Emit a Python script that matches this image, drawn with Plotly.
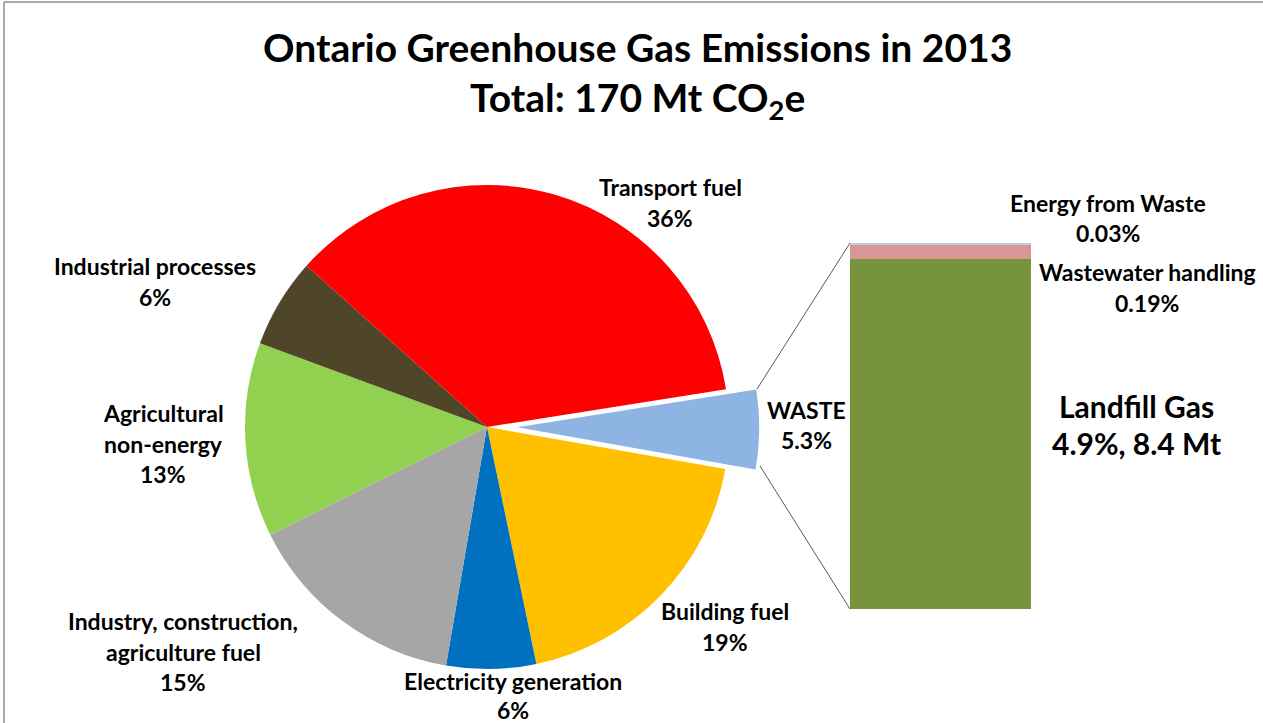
import plotly.graph_objects as go

W, H = 1263, 723

# ---- data ----
pie_labels = ["WASTE", "Building fuel", "Electricity generation",
              "Industry, construction, agriculture fuel", "Agricultural non-energy",
              "Industrial processes", "Transport fuel"]
pie_values = [5.3, 19, 6, 15, 13, 6, 36]
pie_text = ["5.3%", "19%", "6%", "15%", "13%", "6%", "36%"]
pie_colors = ["#8EB4E3", "#FFC000", "#0070C0", "#A6A6A6", "#92D050", "#4F4629", "#FF0000"]

waste_labels = ["Landfill Gas", "Wastewater handling", "Energy from Waste"]
waste_values = [4.9, 0.19, 0.03]
waste_text = ["4.9%, 8.4 Mt", "0.19%", "0.03%"]
waste_colors = ["#77933C", "#D99694", "#B9CDE5"]

FONT = "Lato"

def px(x):
    return x / W

def py(y):
    return 1 - y / H

fig = go.Figure()

# ---- pie ----
cx, cy, R, pull = 487, 427, 242, 0.125
half = R * (1 + pull)
fig.add_trace(go.Pie(
    labels=pie_labels, values=pie_values, sort=False, direction="clockwise",
    rotation=81, pull=[pull] + [0] * (len(pie_values) - 1),
    marker=dict(colors=pie_colors, line=dict(width=0)),
    textinfo="none", hoverinfo="label+text", text=pie_text,
    showlegend=False,
    domain=dict(x=[px(cx - half), px(cx + half)], y=[py(cy + half), py(cy - half)]),
))

# ---- stacked bar ----
for lab, val, col in zip(waste_labels, waste_values, waste_colors):
    fig.add_trace(go.Bar(x=[0], y=[val], name=lab, marker=dict(color=col, line=dict(width=0)),
                         width=1, showlegend=False, xaxis="x", yaxis="y"))

bx0, bx1, by_top, by_bot = 850, 1031, 243, 609
total = sum(waste_values)

# ---- label annotations (one per line) ----
def add_label(lines, x, y0, size=23, gap=30.5):
    for i, line in enumerate(lines):
        fig.add_annotation(text=line, x=px(x), y=py(y0 + i * gap), xref="paper", yref="paper",
                           showarrow=False, xanchor="center", yanchor="middle",
                           font=dict(family=FONT, size=size, color="black", weight="bold"))

add_label(["Transport fuel", pie_text[6]], 670, 187)
add_label(["Industrial processes", pie_text[5]], 155, 266)
add_label(["Agricultural", "non-energy", pie_text[4]], 163, 413)
add_label(["Industry, construction,", "agriculture fuel", pie_text[3]], 183, 621)
add_label(["Electricity generation", pie_text[2]], 513, 681, gap=29)
add_label(["Building fuel", pie_text[1]], 725, 611)
add_label([pie_labels[0], pie_text[0]], 806, 410)
add_label([waste_labels[2], waste_text[2]], 1108, 203)
add_label([waste_labels[1], waste_text[1]], 1147, 272)
add_label([waste_labels[0], waste_text[0]], 1136, 406, size=30, gap=37)

# title lines
for txt, yy in [("Ontario Greenhouse Gas Emissions in 2013", 47),
                ("Total: 170 Mt CO<sub>2</sub>e", 100)]:
    fig.add_annotation(text=txt, x=px(637), y=py(yy),
                       xref="paper", yref="paper", showarrow=False, xanchor="center", yanchor="middle",
                       font=dict(family=FONT, size=39, color="black", weight="bold"))

# connector lines from exploded slice to bar
fig.add_shape(type="line", xref="paper", yref="paper", x0=px(757), y0=py(389),
              x1=px(bx0), y1=py(by_top), line=dict(color="#595959", width=1))
fig.add_shape(type="line", xref="paper", yref="paper", x0=px(760), y0=py(466),
              x1=px(bx0), y1=py(by_bot), line=dict(color="#595959", width=1))

# frame (top and left edges)
fig.add_shape(type="line", xref="paper", yref="paper", x0=px(4), y0=py(2), x1=1, y1=py(2),
              line=dict(color="#8C8C8C", width=1.5))
fig.add_shape(type="line", xref="paper", yref="paper", x0=px(4), y0=py(2), x1=px(4), y1=0,
              line=dict(color="#8C8C8C", width=1.5))

fig.update_layout(
    width=W, height=H, margin=dict(l=0, r=0, t=0, b=0),
    paper_bgcolor="white", plot_bgcolor="white",
    barmode="stack", bargap=0,
    xaxis=dict(domain=[px(bx0), px(bx1)], range=[-0.5, 0.5], visible=False, fixedrange=True),
    yaxis=dict(domain=[py(by_bot), py(by_top)], range=[0, total], visible=False, fixedrange=True),
    font=dict(family=FONT),
)

fig.write_html("out.html", config={"displayModeBar": False},
               post_script="document.body.style.margin='0';document.body.style.overflow='hidden';")
